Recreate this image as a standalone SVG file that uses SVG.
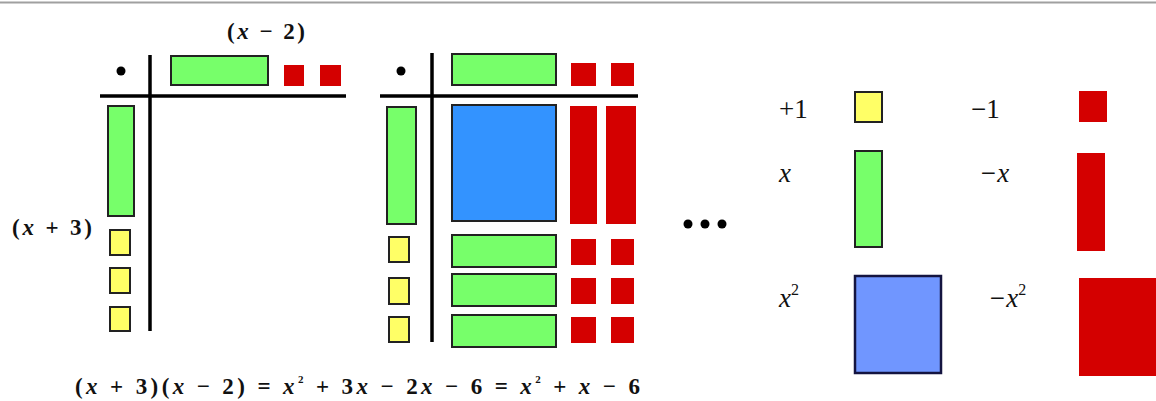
<svg xmlns="http://www.w3.org/2000/svg" width="1156" height="401" viewBox="0 0 1156 401">
  <!-- page rule -->
  <line x1="0" y1="2.5" x2="1156" y2="2.5" stroke="#a0a0a0" stroke-width="2"/>

  <!-- factor table: (x + 3)(x - 2) -->
  <g id="factor-table">
    <g font-family="Liberation Serif" font-weight="bold" font-size="23" fill="#111">
      <text x="227" y="39" textLength="78" lengthAdjust="spacing">(<tspan font-style="italic">x</tspan> − 2)</text>
      <text x="12" y="235" textLength="80" lengthAdjust="spacing">(<tspan font-style="italic">x</tspan> + 3)</text>
    </g>
    <circle cx="121" cy="71" r="4.5" fill="#000"/>
    <g stroke="#000" stroke-width="3.5">
      <line x1="150" y1="55" x2="150" y2="331"/>
      <line x1="100" y1="96" x2="346" y2="96"/>
    </g>
    <g fill="#77ff6a" stroke="#222" stroke-width="2">
      <rect x="171" y="56" width="97" height="29"/>
      <rect x="108" y="106" width="26" height="110"/>
    </g>
    <g fill="#d40000">
      <rect x="284" y="65" width="20" height="21"/>
      <rect x="320" y="65" width="21" height="21"/>
    </g>
    <g fill="#ffff66" stroke="#222" stroke-width="2">
      <rect x="110" y="230" width="20" height="25"/>
      <rect x="110" y="268" width="20" height="25"/>
      <rect x="110" y="307" width="20" height="24"/>
    </g>
  </g>

  <!-- product table -->
  <g id="product-table">
    <circle cx="401" cy="71" r="4.5" fill="#000"/>
    <g stroke="#000" stroke-width="3.5">
      <line x1="432" y1="53" x2="432" y2="342"/>
      <line x1="380" y1="96" x2="638" y2="96"/>
    </g>
    <g fill="#77ff6a" stroke="#222" stroke-width="2">
      <rect x="452" y="54" width="104" height="31"/>
      <rect x="387" y="107" width="29" height="117"/>
      <rect x="452" y="235" width="104" height="32"/>
      <rect x="452" y="274" width="104" height="32"/>
      <rect x="452" y="315" width="104" height="32"/>
    </g>
    <rect x="452" y="105" width="104" height="116" fill="#3393ff" stroke="#222" stroke-width="2"/>
    <g fill="#ffff66" stroke="#222" stroke-width="2">
      <rect x="389" y="237" width="20" height="25"/>
      <rect x="389" y="278" width="20" height="26"/>
      <rect x="389" y="317" width="20" height="25"/>
    </g>
    <g fill="#d40000">
      <rect x="571" y="63" width="25" height="23"/>
      <rect x="611" y="63" width="23" height="23"/>
      <rect x="570" y="106" width="27" height="118"/>
      <rect x="606" y="106" width="30" height="118"/>
      <rect x="571" y="239" width="25" height="26"/>
      <rect x="611" y="239" width="23" height="26"/>
      <rect x="571" y="278" width="25" height="26"/>
      <rect x="611" y="278" width="23" height="26"/>
      <rect x="571" y="317" width="25" height="26"/>
      <rect x="611" y="317" width="23" height="26"/>
    </g>
  </g>

  <!-- resulting expansion -->
  <g id="equation">
    <text x="75" y="394" font-family="Liberation Serif" font-weight="bold" font-size="23" fill="#111" textLength="565" lengthAdjust="spacing">(<tspan font-style="italic">x</tspan> + 3)(<tspan font-style="italic">x</tspan> − 2) = <tspan font-style="italic">x</tspan><tspan font-size="11" dy="-11">2</tspan><tspan dy="11"> + 3</tspan><tspan font-style="italic">x</tspan> − 2<tspan font-style="italic">x</tspan> − 6 = <tspan font-style="italic">x</tspan><tspan font-size="11" dy="-11">2</tspan><tspan dy="11"> + </tspan><tspan font-style="italic">x</tspan> − 6</text>
  </g>

  <!-- ellipsis -->
  <g id="ellipsis" fill="#000">
    <circle cx="688" cy="224" r="4.5"/>
    <circle cx="705" cy="224" r="4.5"/>
    <circle cx="722" cy="224" r="4.5"/>
  </g>

  <!-- tile legend -->
  <g id="legend" font-family="Liberation Serif" font-size="27" fill="#111">
    <g id="legend-one">
      <text x="779" y="118">+1</text>
      <rect x="855" y="92" width="27" height="30" fill="#ffff66" stroke="#222" stroke-width="2"/>
    </g>
    <g id="legend-neg-one">
      <text x="971" y="118">−1</text>
      <rect x="1079" y="91" width="28" height="31" fill="#d40000"/>
    </g>
    <g id="legend-x">
      <text x="779" y="182" font-style="italic">x</text>
      <rect x="855" y="151" width="27" height="96" fill="#77ff6a" stroke="#222" stroke-width="2"/>
    </g>
    <g id="legend-neg-x">
      <text x="979" y="182" font-style="italic">−x</text>
      <rect x="1077" y="153" width="28" height="98" fill="#d40000"/>
    </g>
    <g id="legend-x2">
      <text x="779" y="307" font-style="italic">x<tspan font-size="16" dy="-12" font-style="normal">2</tspan></text>
      <rect x="855" y="276" width="86" height="97" fill="#7096ff" stroke="#141440" stroke-width="2.5"/>
    </g>
    <g id="legend-neg-x2">
      <text x="988" y="307" font-style="italic">−x<tspan font-size="16" dy="-12" font-style="normal">2</tspan></text>
      <rect x="1079" y="278" width="90" height="98" fill="#d40000"/>
    </g>
  </g>
</svg>
